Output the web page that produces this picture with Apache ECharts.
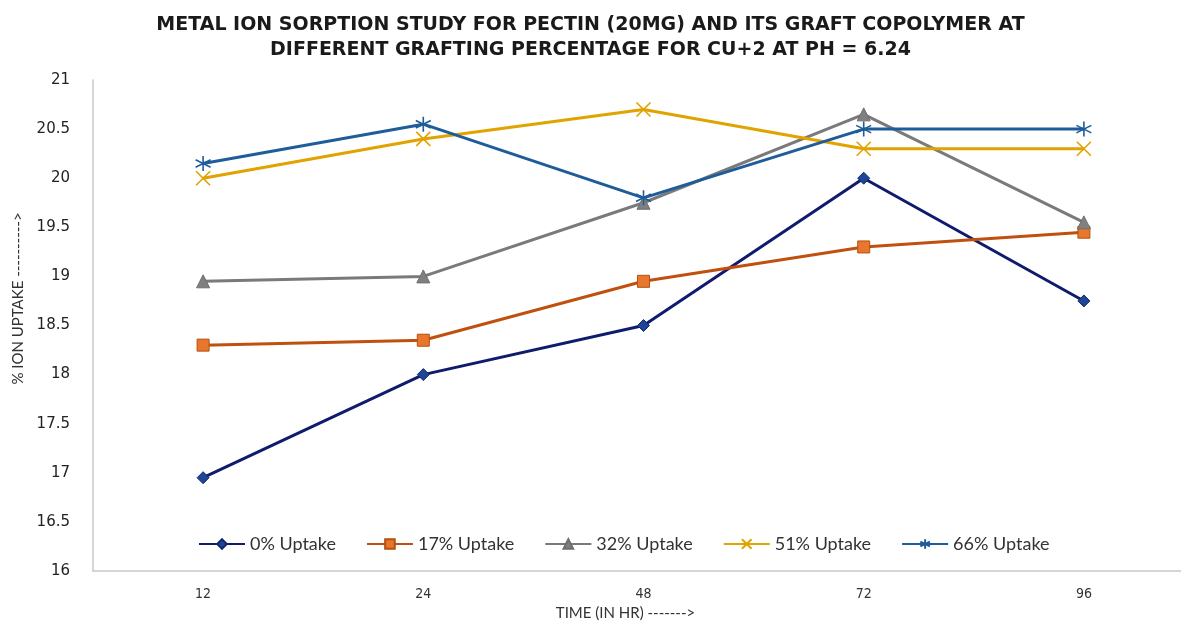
<!DOCTYPE html>
<html>
<head>
<meta charset="utf-8">
<script src="https://cdn.jsdelivr.net/npm/echarts@6/dist/echarts.min.js"></script>
<style>
  html, body { margin: 0; padding: 0; background: #fff; }
  #chart { width: 1181px; height: 621px; }
</style>
</head>
<body>
<div id="chart"></div>
<script>
// Sampling times (hours)
const times = ['12', '24', '48', '72', '96'];

// % ion uptake for each grafting percentage
const uptake0 = [16.95, 18.0, 18.5, 20.0, 18.75];
const uptake17 = [18.3, 18.35, 18.95, 19.3, 19.45];
const uptake32 = [18.95, 19.0, 19.75, 20.65, 19.55];
const uptake51 = [20.0, 20.4, 20.7, 20.3, 20.3];
const uptake66 = [20.15, 20.55, 19.8, 20.5, 20.5];

const seriesNames = ['0% Uptake', '17% Uptake', '32% Uptake', '51% Uptake', '66% Uptake'];

const titleLines = [
  'METAL ION SORPTION STUDY FOR PECTIN (20MG) AND ITS GRAFT COPOLYMER AT',
  'DIFFERENT GRAFTING PERCENTAGE FOR CU+2 AT PH = 6.24'
];

const crossPath = 'path://M0,0L10,10M10,0L0,10';
const starPath = 'path://M5,0L5,10M0.67,2.5L9.33,7.5M0.67,7.5L9.33,2.5';

function lineSeries(name, data, lineColor, symbol, size, fill, border, strokeOnly) {
  return {
    name: name,
    type: 'line',
    data: data,
    symbol: symbol,
    symbolSize: size,
    showAllSymbol: true,
    lineStyle: { color: lineColor, width: 3 },
    itemStyle: strokeOnly
      ? { color: 'rgba(0,0,0,0)', borderColor: border, borderWidth: 1.6 }
      : { color: fill, borderColor: border, borderWidth: 1 },
    emphasis: { disabled: true },
    z: 2
  };
}

const chart = echarts.init(document.getElementById('chart'));
chart.setOption({
  backgroundColor: '#ffffff',
  animation: false,
  title: {
    text: titleLines.join('\n'),
    left: 'center',
    top: 8,
    textStyle: {
      fontFamily: 'DejaVu Sans',
      fontWeight: 'bold',
      fontSize: 19,
      lineHeight: 25,
      color: '#1a1a1a'
    }
  },
  legend: {
    data: seriesNames,
    left: 193,
    top: 530,
    itemWidth: 46,
    itemHeight: 12,
    itemGap: 30,
    textStyle: { fontFamily: 'Lato', fontSize: 18, color: '#333' }
  },
  grid: { left: 93, right: -13, top: 80, bottom: 50, containLabel: false, outerBoundsMode: 'none' },
  xAxis: {
    type: 'category',
    data: times,
    boundaryGap: true,
    name: 'TIME (IN HR) ------->',
    nameLocation: 'middle',
    nameGap: 35,
    nameTextStyle: { fontFamily: 'Lato', fontSize: 15, color: '#333', padding: [0, 36, 0, 0] },
    axisLine: { lineStyle: { color: '#c8c8c8', width: 1.5 } },
    axisTick: { show: false },
    axisLabel: { margin: 16, fontFamily: 'DejaVu Sans Condensed', fontSize: 14, color: '#333' },
    splitLine: { show: false }
  },
  yAxis: {
    type: 'value',
    min: 16,
    max: 21,
    interval: 0.5,
    name: '% ION UPTAKE ---------->',
    nameLocation: 'middle',
    nameGap: 63,
    nameRotate: 90,
    nameTextStyle: { fontFamily: 'Lato', fontSize: 15, color: '#333', padding: [0, 0, 0, 54] },
    axisLine: { show: true, lineStyle: { color: '#c8c8c8', width: 1.5 } },
    axisTick: { show: false },
    axisLabel: { margin: 23, fontFamily: 'DejaVu Sans', fontSize: 15, color: '#222' },
    splitLine: { show: false }
  },
  series: [
    lineSeries(seriesNames[0], uptake0, '#0f1c6e', 'diamond', 12, '#1f4596', '#14286e'),
    lineSeries(seriesNames[1], uptake17, '#c0500f', 'rect', 12, '#e8762d', '#b5500f'),
    lineSeries(seriesNames[2], uptake32, '#7a7a7a', 'triangle', 13, '#808080', '#6e6e6e'),
    lineSeries(seriesNames[3], uptake51, '#e0a300', crossPath, 14, 'none', '#e0a300', true),
    lineSeries(seriesNames[4], uptake66, '#1f5c9a', starPath, 15, 'none', '#1f5c9a', true)
  ]
});
</script>
</body>
</html>
